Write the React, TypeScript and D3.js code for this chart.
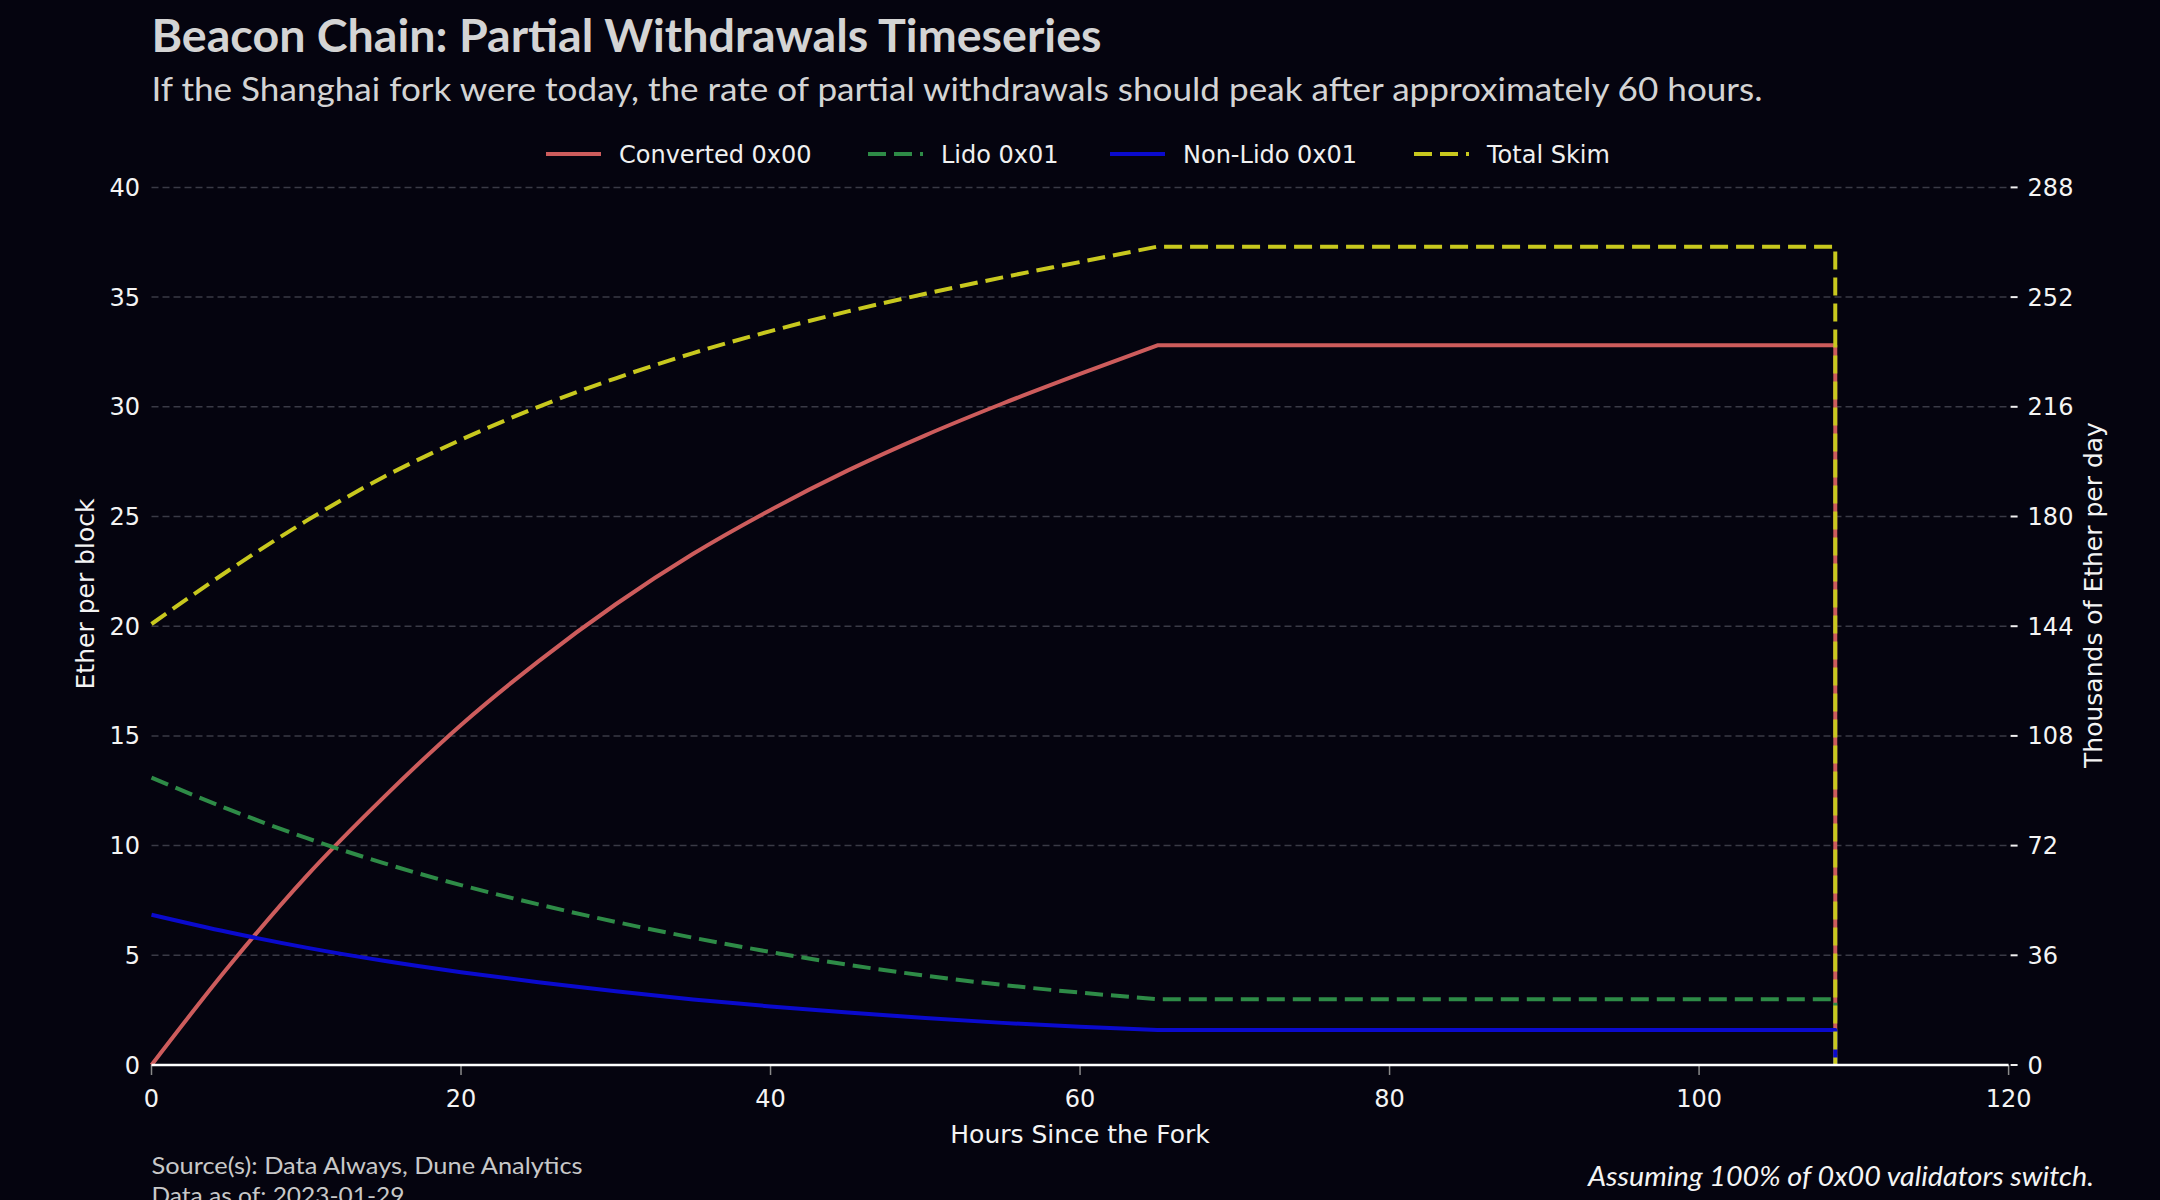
import * as d3 from 'd3';

// hours since the fork, sampled every 5h up to the peak, then flat until the cut-off
const hours = [0, 5, 10, 15, 20, 25, 30, 35, 40, 45, 50, 55, 60, 65];
const flatUntil = 108.8;

const converted = [0, 4.5, 8.6, 12.2, 15.5, 18.4, 21.0, 23.3, 25.3, 27.1, 28.7, 30.15, 31.5, 32.8];
const lido = [13.1, 11.65, 10.35, 9.2, 8.2, 7.32, 6.52, 5.8, 5.15, 4.57, 4.07, 3.65, 3.3, 3.0];
const nonLido = [6.85, 6.05, 5.35, 4.75, 4.23, 3.77, 3.36, 2.99, 2.67, 2.39, 2.14, 1.92, 1.74, 1.59];
const totalSkim = [20.1, 22.55, 24.8, 26.8, 28.5, 30.0, 31.3, 32.45, 33.45, 34.35, 35.15, 35.9, 36.6, 37.3];

const xTicks = [0, 20, 40, 60, 80, 100, 120];
const yTicks = [0, 5, 10, 15, 20, 25, 30, 35, 40];
const yRightTicks = [0, 36, 72, 108, 144, 180, 216, 252, 288];

const W = 2160;
const H = 1200;
const margin = { left: 151.5, right: 2008.6, top: 187.4, bottom: 1065 };

const BG = '#05040f';
const SANS = '"DejaVu Sans", sans-serif';
const TITLE_FONT = 'Lato, "Open Sans", sans-serif';

const series = [
  { name: 'Converted 0x00', values: converted, color: '#cd5c5c', dash: null as string | null },
  { name: 'Lido 0x01', values: lido, color: '#2e8b47', dash: '18,8' },
  { name: 'Non-Lido 0x01', values: nonLido, color: '#0a0acd', dash: null },
  { name: 'Total Skim', values: totalSkim, color: '#c8c81e', dash: '18,8' },
];

const legendX = [546, 868, 1110, 1414];

export default function App() {
  const x = d3.scaleLinear().domain([0, 120]).range([margin.left, margin.right]);
  const y = d3.scaleLinear().domain([0, 40]).range([margin.bottom, margin.top]);
  const yR = d3.scaleLinear().domain([0, 288]).range([margin.bottom, margin.top]);

  const curve = d3
    .line<[number, number]>()
    .x(d => x(d[0]))
    .y(d => y(d[1]))
    .curve(d3.curveMonotoneX);

  // smooth ramp up to the peak, then flat, then straight down to zero
  const pathFor = (vals: number[]) => {
    const pts: [number, number][] = hours.map((h, i) => [h, vals[i]]);
    const last = vals[vals.length - 1];
    return `${curve(pts)}L${x(flatUntil)},${y(last)}L${x(flatUntil)},${y(0)}`;
  };

  return (
    <svg
      width={W}
      height={H}
      style={{ position: 'absolute', left: 0, top: 0, background: BG }}
    >
      <rect x={0} y={0} width={W} height={H} fill={BG} />

      {/* titles */}
      <text x={151.5} y={52} fill="#d4d4d4" fontFamily={TITLE_FONT} fontWeight="bold" fontSize={45}
        textLength={950} lengthAdjust="spacingAndGlyphs">
        Beacon Chain: Partial Withdrawals Timeseries
      </text>
      <text x={151.5} y={101} fill="#d4d4d4" fontFamily={TITLE_FONT} fontSize={33}
        textLength={1611} lengthAdjust="spacingAndGlyphs">
        If the Shanghai fork were today, the rate of partial withdrawals should peak after approximately 60 hours.
      </text>

      {/* legend */}
      {series.map((s, i) => (
        <g key={s.name}>
          <line x1={legendX[i]} x2={legendX[i] + 55} y1={154} y2={154}
            stroke={s.color} strokeWidth={4} strokeDasharray={s.dash || undefined} />
          <text x={legendX[i] + 73} y={162.5} fill="#f0f0f0" fontFamily={SANS} fontSize={24}>
            {s.name}
          </text>
        </g>
      ))}

      {/* grid */}
      {yTicks.slice(1).map(t => (
        <line key={t} x1={margin.left} x2={margin.right} y1={y(t)} y2={y(t)}
          stroke="#3a3a46" strokeWidth={1.5} strokeDasharray="7,4" />
      ))}

      {/* left axis labels */}
      {yTicks.map(t => (
        <text key={t} x={140} y={y(t) + 8.5} fill="#f4f4f4" fontFamily={SANS} fontSize={24} textAnchor="end">
          {t}
        </text>
      ))}

      {/* right axis */}
      {yRightTicks.map(t => (
        <g key={t}>
          <line x1={margin.right + 2} x2={margin.right + 9} y1={yR(t)} y2={yR(t)} stroke="#f0f0f0" strokeWidth={2} />
          <text x={margin.right + 19} y={yR(t) + 8.5} fill="#f4f4f4" fontFamily={SANS} fontSize={24}>
            {t}
          </text>
        </g>
      ))}

      {/* x axis */}
      {xTicks.map(t => (
        <g key={t}>
          <line x1={x(t)} x2={x(t)} y1={margin.bottom} y2={margin.bottom + 10} stroke="#8a8a8a" strokeWidth={1.5} />
          <text x={x(t)} y={1107} fill="#f4f4f4" fontFamily={SANS} fontSize={24} textAnchor="middle">
            {t}
          </text>
        </g>
      ))}

      {/* series */}
      {series.map(s => (
        <path key={s.name} d={pathFor(s.values)} fill="none" stroke={s.color} strokeWidth={4}
          strokeDasharray={s.dash || undefined} strokeLinejoin="round" />
      ))}

      <line x1={margin.left} x2={margin.right} y1={margin.bottom} y2={margin.bottom} stroke="#ffffff" strokeWidth={2.5} />

      {/* axis titles */}
      <text x={1080} y={1143} fill="#f4f4f4" fontFamily={SANS} fontSize={25} textAnchor="middle">
        Hours Since the Fork
      </text>
      <text transform="translate(94,594) rotate(-90)" fill="#f4f4f4" fontFamily={SANS} fontSize={25} textAnchor="middle">
        Ether per block
      </text>
      <text transform="translate(2102,595) rotate(-90)" fill="#f4f4f4" fontFamily={SANS} fontSize={25} textAnchor="middle">
        Thousands of Ether per day
      </text>

      {/* footnotes */}
      <text x={151.5} y={1174} fill="#c8c8c8" fontFamily={TITLE_FONT} fontSize={24}
        textLength={431} lengthAdjust="spacingAndGlyphs">
        Source(s): Data Always, Dune Analytics
      </text>
      <text x={151.5} y={1204} fill="#c8c8c8" fontFamily={TITLE_FONT} fontSize={24}
        textLength={253} lengthAdjust="spacingAndGlyphs">
        Data as of: 2023-01-29
      </text>
      <text x={2094} y={1186} fill="#f4f4f4" fontFamily={TITLE_FONT} fontStyle="italic" fontSize={27}
        textAnchor="end" textLength={506} lengthAdjust="spacingAndGlyphs">
        Assuming 100% of 0x00 validators switch.
      </text>
    </svg>
  );
}
